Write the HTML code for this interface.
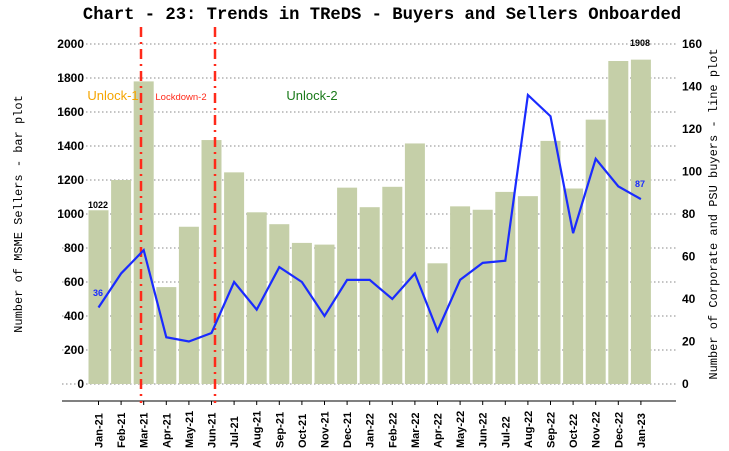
<!DOCTYPE html><html><head><style>body{margin:0;background:#fff}svg{display:block}</style></head><body>
<svg width="729" height="451" xmlns="http://www.w3.org/2000/svg" font-family="Liberation Sans, sans-serif">
<text x="382" y="19" text-anchor="middle" font-family="Liberation Mono, monospace" font-weight="bold" font-size="17.2">Chart - 23: Trends in TReDS - Buyers and Sellers Onboarded</text>
<g id="grid" stroke="#888" stroke-dasharray="1.5,2.5" stroke-width="1"></g>
<g id="bars" fill="#c5cfa8"></g>
<line x1="62" y1="401" x2="676" y2="401" stroke="#000" stroke-width="1"/>
<g id="ticks"></g>
<line x1="141" y1="27" x2="141" y2="403" stroke="#ff2a1a" stroke-width="2.5" stroke-dasharray="10,5,2,5"/>
<line x1="215" y1="27" x2="215" y2="403" stroke="#ff2a1a" stroke-width="2.5" stroke-dasharray="10,5,2,5"/>
<polyline id="ln" fill="none" stroke="#1a2bff" stroke-width="2.2"/>
<text x="113" y="100" text-anchor="middle" fill="#f5a500" font-size="13">Unlock-1</text>
<text x="181" y="100" text-anchor="middle" fill="#ff2a1a" font-size="9.5">Lockdown-2</text>
<text x="312" y="100" text-anchor="middle" fill="#1a7a1a" font-size="13">Unlock-2</text>
<text x="98" y="208" text-anchor="middle" font-size="9" font-weight="bold">1022</text>
<text x="640" y="46" text-anchor="middle" font-size="9" font-weight="bold">1908</text>
<text x="98" y="296" text-anchor="middle" font-size="9" font-weight="bold" fill="#1a2bff">36</text>
<text x="640" y="187" text-anchor="middle" font-size="9" font-weight="bold" fill="#1a2bff">87</text>
<text transform="translate(22,214) rotate(-90)" text-anchor="middle" font-family="Liberation Mono, monospace" font-size="12">Number of MSME Sellers - bar plot</text>
<text transform="translate(717,214) rotate(-90)" text-anchor="middle" font-family="Liberation Mono, monospace" font-size="12">Number of Corporate and PSU buyers - line plot</text>
<g id="yl" font-size="12" font-weight="bold"></g>
</svg>
<script>
const ns="http://www.w3.org/2000/svg";
function el(p,t,a,txt){const e=document.createElementNS(ns,t);for(const k in a)e.setAttribute(k,a[k]);if(txt)e.textContent=txt;document.getElementById(p).appendChild(e);return e;}
const bars=[1022,1200,1780,570,925,1435,1245,1010,940,830,820,1155,1040,1160,1415,710,1045,1025,1130,1105,1430,1150,1555,1900,1908];
const line=[36,52,63,22,20,24,48,35,55,48,32,49,49,40,52,25,49,57,58,136,126,71,106,93,87];
const labs=["Jan-21","Feb-21","Mar-21","Apr-21","May-21","Jun-21","Jul-21","Aug-21","Sep-21","Oct-21","Nov-21","Dec-21","Jan-22","Feb-22","Mar-22","Apr-22","May-22","Jun-22","Jul-22","Aug-22","Sep-22","Oct-22","Nov-22","Dec-22","Jan-23"];
for(let v=0;v<=2000;v+=200){const y=384-v*0.17;el("grid","line",{x1:62,x2:677,y1:y,y2:y});el("yl","text",{x:84,y:y+4,"text-anchor":"end"},String(v));}
for(let v=0;v<=160;v+=20){const y=384-v*2.125;el("yl","text",{x:682,y:y+4},String(v));}
let pts=[];
bars.forEach((b,i)=>{const c=98.5+i*22.6;const h=b*0.17;el("bars","rect",{x:c-10,y:384-h,width:20,height:h});
el("ticks","line",{x1:c,x2:c,y1:401,y2:405,stroke:"#000"});
el("ticks","text",{transform:`translate(${c+4},448) rotate(-90)`,"font-size":"11","font-weight":"bold"},labs[i]);
pts.push(c+","+(384-line[i]*2.125));});
document.getElementById("ln").setAttribute("points",pts.join(" "));
</script>
</body></html>
